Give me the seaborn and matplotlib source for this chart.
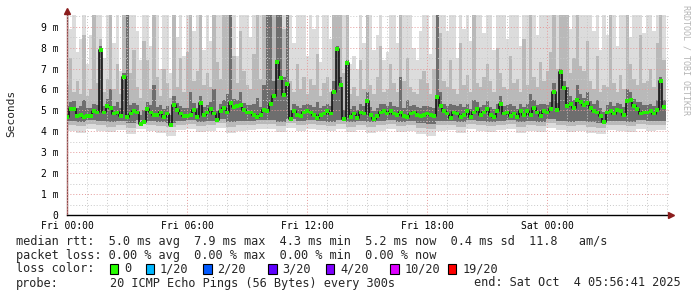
import numpy as np
import matplotlib
matplotlib.use("Agg")
import matplotlib.pyplot as plt
import seaborn as sns
from matplotlib.patches import Rectangle

# ---------------- data (milliseconds, 10-minute bins, 30 hours) ----------------
median_ms = [
    4.7, 5.05, 5.05, 4.75, 4.8, 4.7,
    4.75, 4.75, 4.95, 4.9, 7.9, 4.9,
    5.2, 5.1, 4.85, 4.9, 4.75, 6.6,
    4.7, 4.85, 4.95, 4.9, 4.35, 4.45,
    5.05, 4.9, 4.8, 4.8, 4.9, 4.7,
    4.85, 4.3, 5.25, 5.0, 4.85, 4.75,
    4.75, 4.8, 5.0, 4.7, 5.35, 4.8,
    4.9, 5.05, 4.85, 4.55, 4.95, 5.1,
    4.9, 5.35, 5.15, 5.2, 5.25, 5.0,
    4.9, 4.9, 4.8, 4.7, 4.8, 5.0,
    4.95, 5.3, 5.7, 7.3, 6.55, 5.75,
    6.27, 4.6, 4.95, 4.8, 4.75, 4.9,
    4.95, 4.9, 4.8, 4.65, 4.8, 4.85,
    4.95, 4.85, 5.9, 7.95, 6.2, 4.6,
    7.25, 4.7, 4.85, 4.65, 4.9, 4.85,
    5.45, 4.8, 4.6, 4.75, 4.9, 4.95,
    4.85, 4.95, 4.85, 4.8, 4.9, 4.75,
    4.7, 4.85, 4.9, 4.8, 4.75, 4.8,
    4.85, 4.8, 4.75, 5.65, 5.2, 4.95,
    4.85, 4.65, 4.9, 4.85, 4.7, 4.8,
    4.95, 4.7, 4.9, 5.05, 4.8, 4.9,
    5.05, 4.8, 4.7, 4.95, 5.3, 4.85,
    4.9, 4.75, 4.85, 4.7, 4.95, 4.8,
    4.95, 4.8, 5.1, 4.9, 4.75, 4.95,
    4.9, 5.05, 5.9, 5.0, 6.85, 6.05,
    5.2, 5.3, 5.1, 5.5, 5.4, 5.25,
    5.35, 5.1, 4.95, 4.9, 4.75, 4.45,
    4.9, 4.95, 4.85, 5.0, 4.95, 4.8,
    5.45, 5.5, 5.2, 5.05, 4.85, 4.9,
    4.9, 4.95, 4.85, 5.0, 6.4, 5.15,
]

smoke_light_top = [
    9.6, 8.9, 9.6, 7.8, 8.4, 9.6,
    7.2, 8.6, 9.6, 9.6, 9.6, 7.5,
    9.6, 9.6, 8.2, 9.6, 6.9, 9.6,
    9.6, 9.6, 9.6, 8.8, 7.4, 9.6,
    9.6, 8.1, 9.6, 9.6, 7.0, 9.6,
    9.6, 6.8, 9.6, 8.5, 9.6, 7.6,
    9.6, 9.6, 8.8, 9.6, 9.6, 7.9,
    9.6, 8.3, 9.6, 9.6, 9.6, 8.8,
    9.6, 9.6, 9.6, 7.6, 9.6, 9.6,
    9.6, 8.5, 9.6, 9.6, 9.6, 9.6,
    9.6, 9.6, 9.6, 9.6, 9.6, 9.6,
    9.6, 9.6, 8.2, 9.6, 9.6, 9.6,
    7.6, 9.6, 8.9, 9.6, 7.3, 9.6,
    9.6, 8.4, 9.6, 9.6, 9.6, 9.6,
    9.6, 7.2, 7.6, 7.0, 9.6, 8.2,
    9.6, 9.6, 7.9, 8.6, 9.6, 7.4,
    7.8, 9.6, 9.6, 8.2, 9.6, 9.6,
    9.6, 9.6, 8.0, 7.4, 8.8, 9.6,
    9.6, 7.7, 9.6, 9.6, 9.6, 9.6,
    8.8, 9.6, 9.6, 7.5, 9.6, 8.9,
    9.6, 8.3, 9.6, 9.6, 9.6, 8.7,
    9.6, 9.6, 7.9, 9.6, 9.6, 9.6,
    8.4, 9.6, 9.6, 9.6, 8.1, 9.6,
    9.6, 9.6, 9.6, 8.6, 9.6, 9.6,
    9.6, 9.6, 9.6, 9.6, 9.6, 9.6,
    9.6, 8.9, 9.6, 9.6, 9.6, 9.6,
    9.6, 9.6, 8.8, 9.6, 7.9, 9.6,
    8.6, 9.6, 9.6, 8.1, 9.6, 9.6,
    9.6, 8.5, 9.6, 9.6, 9.6, 8.7,
    9.6, 9.6, 8.8, 9.6, 9.6, 9.6,
]

smoke_mid_top = [
    6.2, 7.5, 5.9, 6.4, 5.8, 8.6,
    5.7, 6.0, 9.6, 6.3, 8.4, 5.9,
    6.5, 9.6, 6.0, 7.2, 5.8, 9.6,
    9.6, 6.8, 7.9, 6.1, 5.6, 8.3,
    7.4, 6.0, 9.6, 6.6, 5.7, 7.0,
    6.3, 5.6, 9.6, 6.1, 7.5, 5.9,
    7.8, 9.6, 6.4, 6.9, 9.6, 6.2,
    6.8, 6.1, 9.6, 7.3, 6.5, 9.6,
    9.6, 9.6, 7.6, 6.3, 8.8, 6.9,
    6.2, 6.0, 7.7, 9.6, 6.5, 9.6,
    9.6, 9.6, 9.6, 9.6, 9.6, 8.9,
    9.6, 6.4, 5.9, 7.2, 6.0, 6.6,
    5.8, 6.5, 6.2, 7.7, 5.7, 6.3,
    6.6, 5.9, 9.6, 9.6, 9.6, 6.8,
    9.6, 5.8, 6.1, 5.7, 7.4, 6.0,
    9.6, 6.2, 5.8, 6.6, 8.1, 5.9,
    6.0, 7.2, 6.3, 5.9, 9.6, 6.4,
    7.5, 6.1, 5.9, 5.8, 6.5, 6.9,
    6.3, 5.8, 7.0, 9.6, 8.7, 6.4,
    6.1, 7.4, 6.0, 5.8, 8.2, 6.2,
    6.7, 5.9, 9.6, 6.3, 6.1, 6.6,
    7.2, 6.4, 5.9, 8.0, 6.8, 6.1,
    6.0, 7.6, 6.3, 6.5, 5.9, 8.4,
    6.2, 9.6, 6.6, 6.1, 7.3, 6.4,
    6.9, 7.8, 9.6, 7.0, 9.6, 9.6,
    9.6, 6.8, 7.5, 9.6, 7.1, 6.9,
    8.3, 6.4, 6.0, 7.6, 5.9, 6.2,
    6.1, 9.6, 6.3, 5.9, 6.7, 6.0,
    9.6, 7.2, 6.5, 6.2, 8.6, 6.3,
    6.4, 7.0, 6.1, 8.2, 9.6, 7.4,
]

smoke_dark_top = [
    5.2, 5.4, 5.45, 5.1, 5.2, 5.5,
    5.1, 5.1, 5.3, 5.25, 8.1, 5.2,
    5.55, 6.0, 5.2, 5.4, 5.1, 6.8,
    9.6, 5.25, 5.35, 5.25, 4.8, 5.0,
    5.4, 5.25, 6.2, 5.15, 5.25, 5.05,
    5.2, 4.8, 5.7, 5.35, 5.2, 5.1,
    5.1, 5.9, 5.35, 5.1, 5.7, 5.15,
    5.25, 5.4, 6.0, 4.95, 5.3, 5.5,
    5.8, 9.6, 5.55, 5.5, 5.9, 5.35,
    5.25, 5.25, 5.3, 5.6, 5.15, 6.2,
    9.6, 9.6, 6.4, 9.6, 9.6, 6.6,
    9.6, 5.0, 5.3, 5.2, 5.1, 5.25,
    5.3, 5.25, 5.15, 5.4, 5.1, 5.2,
    5.3, 5.2, 6.4, 8.1, 6.6, 5.0,
    7.4, 5.05, 5.2, 5.0, 5.3, 5.2,
    5.9, 5.15, 4.95, 5.1, 5.3, 5.3,
    5.2, 5.4, 5.2, 5.15, 6.6, 5.1,
    5.5, 5.2, 5.25, 5.15, 5.1, 5.2,
    5.2, 5.15, 5.1, 9.6, 5.9, 5.3,
    5.2, 5.3, 5.25, 5.2, 5.3, 5.15,
    5.3, 5.05, 5.5, 5.4, 5.15, 5.25,
    5.45, 5.15, 5.05, 5.3, 5.7, 5.2,
    5.25, 5.3, 5.2, 5.05, 5.3, 5.15,
    5.3, 5.8, 5.5, 5.25, 5.3, 5.3,
    5.25, 5.4, 6.3, 5.35, 7.0, 6.4,
    6.1, 5.7, 5.5, 6.2, 5.8, 5.6,
    5.9, 5.45, 5.3, 5.5, 5.1, 4.9,
    5.25, 5.4, 5.2, 5.35, 5.3, 5.15,
    6.0, 5.9, 5.55, 5.4, 5.4, 5.25,
    5.25, 5.3, 5.2, 5.5, 6.6, 5.5,
]

# lower smoke edges, 30-minute resolution
smoke_light_bottom = [
    4.0, 3.9, 4.1, 4.0, 3.95, 4.05, 3.85, 4.1, 4.0, 3.9,
    3.8, 4.05, 4.1, 3.95, 4.0, 4.15, 3.9, 4.0, 4.05, 4.1,
    4.1, 3.95, 4.15, 4.0, 4.1, 4.05, 4.0, 4.1, 3.95, 4.05,
    3.9, 4.0, 4.1, 3.95, 4.0, 3.85, 3.8, 4.0, 4.05, 3.9,
    4.1, 4.0, 3.95, 4.05, 4.1, 3.9, 4.0, 3.95, 4.15, 4.05,
    3.95, 4.0, 3.9, 3.85, 4.05, 4.0, 3.95, 4.1, 4.0, 4.05,
]
smoke_mid_bottom = [
    4.3, 4.25, 4.35, 4.3, 4.2, 4.3, 4.15, 4.35, 4.3, 4.25,
    4.2, 4.3, 4.35, 4.25, 4.3, 4.4, 4.2, 4.3, 4.3, 4.35,
    4.35, 4.25, 4.4, 4.3, 4.35, 4.3, 4.25, 4.35, 4.2, 4.3,
    4.2, 4.3, 4.35, 4.25, 4.3, 4.15, 4.1, 4.3, 4.3, 4.2,
    4.35, 4.3, 4.25, 4.3, 4.35, 4.2, 4.3, 4.25, 4.4, 4.3,
    4.25, 4.3, 4.2, 4.15, 4.3, 4.3, 4.25, 4.35, 4.3, 4.3,
]
smoke_dark_bottom = [
    4.5, 4.45, 4.55, 4.5, 4.45, 4.5, 4.4, 4.55, 4.5, 4.45,
    4.4, 4.5, 4.55, 4.45, 4.5, 4.6, 4.45, 4.5, 4.5, 4.55,
    4.55, 4.45, 4.6, 4.5, 4.55, 4.5, 4.45, 4.55, 4.45, 4.5,
    4.45, 4.5, 4.55, 4.45, 4.5, 4.4, 4.35, 4.5, 4.5, 4.45,
    4.55, 4.5, 4.45, 4.5, 4.55, 4.45, 4.5, 4.45, 4.6, 4.5,
    4.45, 4.5, 4.45, 4.4, 4.5, 4.5, 4.45, 4.55, 4.5, 4.5,
]

x_tick_hours = [0, 6, 12, 18, 24]
x_tick_labels = ["Fri 00:00", "Fri 06:00", "Fri 12:00", "Fri 18:00", "Sat 00:00"]
y_tick_vals = [0, 1, 2, 3, 4, 5, 6, 7, 8, 9]
y_tick_labels = ["0", "1 m", "2 m", "3 m", "4 m", "5 m", "6 m", "7 m", "8 m", "9 m"]

loss_labels = ["0", "1/20", "2/20", "3/20", "4/20", "10/20", "19/20"]
loss_colors = ["#26ff00", "#00b8ff", "#0059ff", "#5e00ff", "#7e00ff", "#dd00ff", "#ff0000"]

stats_line = "median rtt:  5.0 ms avg  7.9 ms max  4.3 ms min  5.2 ms now  0.4 ms sd  11.8   am/s"
loss_line = "packet loss: 0.00 % avg  0.00 % max  0.00 % min  0.00 % now"
probe_label = "probe:"
probe_text = "20 ICMP Echo Pings (56 Bytes) every 300s"
end_text = "end: Sat Oct  4 05:56:41 2025"
credit_text = "RRDTOOL / TOBI OETIKER"

# ---------------- figure ----------------
sns.set_theme(style="white")
plt.rcParams["font.family"] = ["DejaVu Sans Mono", "DejaVu Sans"]

W, H = 697, 297
fig = plt.figure(figsize=(W / 100, H / 100), dpi=100)
fig.patch.set_facecolor("white")
ax = fig.add_axes([67 / W, (H - 215) / H, 602 / W, 200 / H])
ax.set_facecolor("white")

n = len(median_ms)
bin_h = 30.0 / n
t = np.arange(n) * bin_h + bin_h / 2 - 0.07
med = np.array(median_ms)
rep = n // len(smoke_light_bottom)
lb = np.repeat(smoke_light_bottom, rep)
mb = np.repeat(smoke_mid_bottom, rep)
db = np.repeat(smoke_dark_bottom, rep)
lt = np.array(smoke_light_top)
mt = np.array(smoke_mid_top)
dt = np.array(smoke_dark_top)

ax.bar(t, lt - lb, bottom=lb, width=bin_h, color="#dcdcdc", linewidth=0, zorder=1)
ax.bar(t, mt - mb, bottom=mb, width=bin_h, color="#b9b9b9", linewidth=0, zorder=1.1)
ax.bar(t, dt - db, bottom=db, width=bin_h, color="#6e6e6e", linewidth=0, zorder=1.2)

sns.lineplot(x=t, y=med, ax=ax, color="#151515", linewidth=1.2,
             drawstyle="steps-mid", zorder=3, legend=False)
sns.scatterplot(x=t, y=med, ax=ax, marker="s", s=8, color="#22f000",
                edgecolor="none", linewidth=0, zorder=4, legend=False)

ax.set_xlim(0, 30.1)
ax.set_ylim(0, 9.56)
ax.set_xticks(x_tick_hours)
ax.set_xticklabels(x_tick_labels)
ax.set_xticks(np.arange(0, 31, 1), minor=True)
ax.set_yticks(y_tick_vals)
ax.set_yticklabels(y_tick_labels)
ax.set_yticks(np.arange(0, 9.6, 0.5), minor=True)

ax.set_axisbelow(False)
ax.grid(which="minor", color="#c9c9c9", linestyle=(0, (1, 2)), linewidth=0.7)
ax.grid(which="major", color="#e49a9a", linestyle=(0, (1, 2)), linewidth=0.7)

ax.tick_params(which="both", direction="out", length=2, width=0.7, color="#555555")
ax.tick_params(axis="x", which="major", labelsize=7, pad=2, colors="#555555", labelcolor="black")
ax.tick_params(axis="y", which="major", labelsize=7, pad=4, colors="#555555", labelcolor="black")

for s in ["top", "right"]:
    ax.spines[s].set_visible(False)
ax.spines["bottom"].set_color("#000000")
ax.spines["bottom"].set_linewidth(1.0)
ax.spines["left"].set_color("#8a4a4a")
ax.spines["left"].set_linewidth(1.0)

# axis arrows
ax.plot([1.004], [0], marker=">", color="#8b1c1c", markersize=4, transform=ax.transAxes,
        clip_on=False, zorder=6)
ax.plot([0], [1.02], marker="^", color="#8b1c1c", markersize=4, transform=ax.transAxes,
        clip_on=False, zorder=6)

# y label
fig.text(11 / W, 1 - 113 / H, "Seconds", rotation=90, ha="center", va="center", fontsize=8)
# credit
fig.text(686 / W, 1 - 60 / H, credit_text, rotation=270, ha="center", va="center",
         fontsize=6, color="#b4b4b4")

# legend text
CW = 7.2  # character cell width in px


def ftxt(x, y, s, ha="left", **kw):
    fig.text(x / W, 1 - y / H, s, ha=ha, va="center", fontsize=8.6, **kw)


def col(c):
    return 16 + c * CW


ftxt(16, 241, stats_line)
ftxt(16, 255, loss_line)
ftxt(16, 269, "loss color:")
sq_cols = [13, 18, 26, 35, 43, 52, 60]
for c, lab, sc in zip(loss_colors, loss_labels, sq_cols):
    fig.patches.append(Rectangle((col(sc) / W, 1 - 274 / H), 8.5 / W, 10 / H,
                                 transform=fig.transFigure, facecolor=c,
                                 edgecolor="black", linewidth=0.8))
    ftxt(col(sc + 2), 269, lab)
ftxt(16, 283, probe_label)
ftxt(col(13), 283, probe_text)
ftxt(681, 283, end_text, ha="right")

fig.savefig("out.png", dpi=100, facecolor="white")
